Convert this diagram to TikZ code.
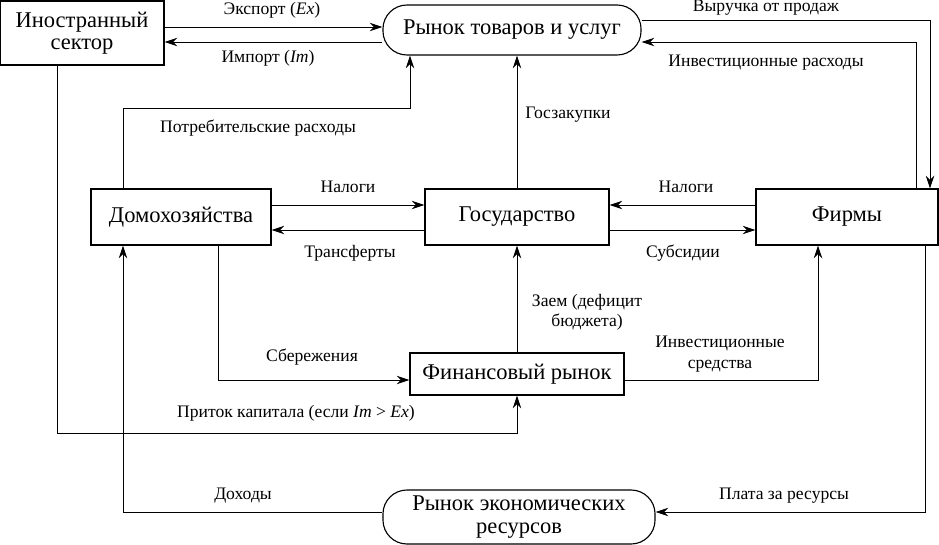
\documentclass[tikz,border=0pt]{standalone}
\usepackage{fontspec}
\setmainfont{Liberation Serif}
\usetikzlibrary{arrows.meta,positioning}

\begin{document}
\begin{tikzpicture}[
    x=0.025cm, y=-0.025cm,
    >={Stealth[length=9pt,width=6pt]},
    semithick,
    box/.style={rectangle,draw,thick,minimum height=1.4cm,font=\fontsize{16}{18}\selectfont,align=center},
    market/.style={rectangle,draw,thick,rounded corners=0.6cm,font=\fontsize{16}{18}\selectfont,align=center},
    lbl/.style={font=\fontsize{12.5}{14.5}\selectfont,align=center}
]
\useasboundingbox (0,0) rectangle (939,545);

% Sectors
\node[box,minimum width=4.1cm,minimum height=1.6cm] (foreign) at (82,33) {Иностранный\\[-2pt]сектор};
\node[market,minimum width=6.45cm,minimum height=1.25cm] (goods) at (512,30) {Рынок товаров и услуг};
\node[box,minimum width=4.5cm] (house) at (181,217) {Домохозяйства};
\node[box,minimum width=4.6cm] (gov) at (517,217) {Государство};
\node[box,minimum width=4.55cm] (firms) at (847,217) {Фирмы};
\node[box,minimum width=5.35cm,minimum height=1.05cm] (fin) at (517,374) {Финансовый рынок};
\node[market,minimum width=6.8cm,minimum height=1.35cm] (res) at (519,517) {Рынок экономических\\[-2pt]ресурсов};

% Foreign trade
\draw[->] (foreign.east |- 0,27) -- (goods.west |- 0,27);
\node[lbl] (ex) at (272,10) {Экспорт (\textit{Ex})};
\draw[->] (goods.west |- 0,42) -- (foreign.east |- 0,42);
\node[lbl] (im) at (268,58) {Импорт (\textit{Im})};

% Firms and goods market
\draw[->] (goods.east |- 0,20) -- (930,20) -- (firms.north -| 930,0);
\node[lbl] (rev) at (766,8) {Выручка от продаж};
\draw[->] (firms.north -| 916,0) -- (916,42) -- (goods.east |- 0,42);
\node[lbl] (inv) at (766,63) {Инвестиционные расходы};

% Households, government
\draw[->] (house.north -| 123,0) -- (123,108) -- (410,108) -- (goods.south -| 410,0);
\node[lbl] (cons) at (258,128) {Потребительские расходы};
\draw[->] (gov) -- (goods.south -| gov);
\node[lbl] (proc) at (568,115) {Госзакупки};
\draw[->] (house.east |- 0,205) -- (gov.west |- 0,205);
\node[lbl] (tax1) at (348,187) {Налоги};
\draw[->] (gov.west |- 0,230) -- (house.east |- 0,230);
\node[lbl] (trans) at (350,253) {Трансферты};
\draw[->] (firms.west |- 0,205) -- (gov.east |- 0,205);
\node[lbl] (tax2) at (686,187) {Налоги};
\draw[->] (gov.east |- 0,230) -- (firms.west |- 0,230);
\node[lbl] (subs) at (683,253) {Субсидии};

% Financial market
\draw[->] (house.south -| 218,0) -- (218,380) -- (fin.west |- 0,380);
\node[lbl] (sav) at (312,357) {Сбережения};
\draw[->] (fin) -- (gov);
\node[lbl] (loan) at (587,312) {Заем (дефицит\\бюджета)};
\draw[->] (fin.east |- 0,380) -- (818,380) -- (firms.south -| 818,0);
\node[lbl] (invf) at (720,354) {Инвестиционные\\средства};
\draw[->] (foreign.south -| 57,0) -- (57,433) -- (517,433) -- (fin.south);
\node[lbl] (cap) at (296,413) {Приток капитала (если \textit{Im} > \textit{Ex})};

% Resource market
\draw[->] (res.west |- 0,512) -- (123,512) -- (house.south -| 123,0);
\node[lbl] (inc) at (243,496) {Доходы};
\draw[->] (firms.south -| 925,0) -- (925,512) -- (res.east |- 0,512);
\node[lbl] (pay) at (784,496) {Плата за ресурсы};
\end{tikzpicture}
\end{document}
